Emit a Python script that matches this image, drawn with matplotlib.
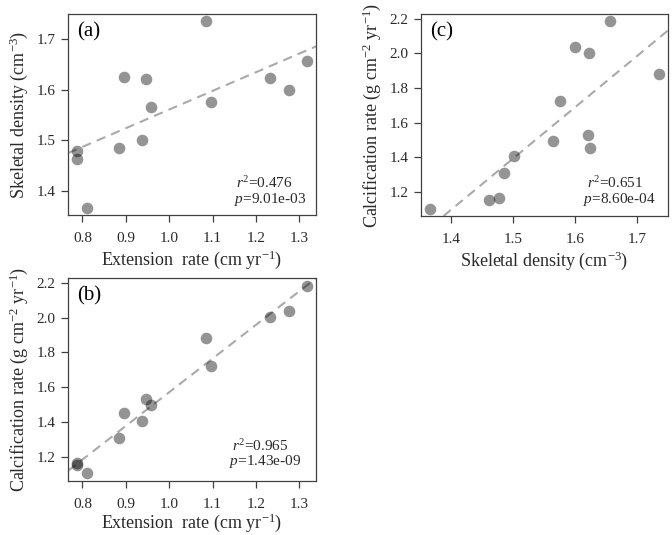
import numpy as np
import matplotlib
matplotlib.use("Agg")
import matplotlib.pyplot as plt

plt.rcParams['font.family'] = ['Liberation Serif', 'DejaVu Serif']
plt.rcParams['mathtext.fontset'] = 'custom'
plt.rcParams['mathtext.rm'] = 'Liberation Serif'
plt.rcParams['mathtext.it'] = 'Liberation Serif:italic'

# Data (one entry per coral)
extension = [0.788, 0.788, 0.810, 0.8835, 0.895, 0.938, 0.947, 0.9587,
             1.086, 1.096, 1.2325, 1.2757, 1.3174]
density = [1.478, 1.462, 1.367, 1.485, 1.624, 1.501, 1.621, 1.565,
           1.7346, 1.576, 1.623, 1.600, 1.656]
calcification = [1.165, 1.155, 1.104, 1.310, 1.454, 1.406, 1.531, 1.496,
                 1.883, 1.723, 2.002, 2.040, 2.185]

stats_a = ("0.476", "9.01e-03")
stats_b = ("0.965", "1.43e-09")
stats_c = ("0.651", "8.60e-04")

xticks_ext = [0.8, 0.9, 1.0, 1.1, 1.2, 1.3]
yticks_den = [1.4, 1.5, 1.6, 1.7]
xticks_den = [1.4, 1.5, 1.6, 1.7]
yticks_cal = [1.2, 1.4, 1.6, 1.8, 2.0, 2.2]

W, H = 672, 535
fig = plt.figure(figsize=(W / 100, H / 100), dpi=100)

def ax_px(left, top, right, bottom):
    return fig.add_axes([left / W, 1 - bottom / H, (right - left) / W, (bottom - top) / H])

def rlim(v):
    v = np.asarray(v)
    r = v.max() - v.min()
    return v.min() - 0.04 * r, v.max() + 0.04 * r

SPINE = '#404040'
TXT = '#2a2a2a'

def panel(ax, x, y, xt, yt, xlabel, ylabel, tag, stats, txtpos, xlpad=3):
    x = np.asarray(x); y = np.asarray(y)
    ax.scatter(x, y, s=70, color='black', alpha=0.42, linewidths=0, zorder=3)
    m, b = np.polyfit(x, y, 1)
    ax.axline((0, b), slope=m, color='#aaaaaa', lw=1.5, dashes=(4.5, 3), zorder=2)
    ax.set_xlim(*rlim(x)); ax.set_ylim(*rlim(y))
    ax.set_xticks(xt); ax.set_yticks(yt)
    ax.set_xticklabels([f"{t:.1f}" for t in xt])
    ax.set_yticklabels([f"{t:.1f}" for t in yt])
    for s in ax.spines.values():
        s.set_color(SPINE); s.set_linewidth(0.9)
    ax.tick_params(direction='out', length=5, width=0.9, color=SPINE,
                   labelsize=11, labelcolor=TXT)
    ax.tick_params(axis='x', pad=7)
    ax.tick_params(axis='y', pad=4)
    ax.set_xlabel(xlabel, fontsize=13, color=TXT, labelpad=xlpad)
    ax.set_ylabel(ylabel, fontsize=13, color=TXT, labelpad=5)
    ax.text(0.036, 0.91, tag, transform=ax.transAxes, fontsize=15, va='center', ha='left')
    (rx, ry), (px, py) = txtpos
    fig.text(rx / W, 1 - ry / H, r"$r^2$=" + stats[0], fontsize=11, color=TXT, va='center')
    fig.text(px / W, 1 - py / H, r"$p$=" + stats[1], fontsize=11, color=TXT, va='center')

ext_label = r"Extension  rate (cm yr$^{\mathregular{-1}}$)"
den_label = r"Skeletal density (cm$^{\mathregular{-3}}$)"
cal_label = r"Calcification rate (g cm$^{\mathregular{-2}}$ yr$^{\mathregular{-1}}$)"

ax_a = ax_px(68, 14, 316, 215)
panel(ax_a, extension, density, xticks_ext, yticks_den, ext_label, den_label, "(a)",
      stats_a, ((236, 183), (234, 200)))

ax_b = ax_px(68, 278, 316, 481)
panel(ax_b, extension, calcification, xticks_ext, yticks_cal, ext_label, cal_label, "(b)",
      stats_b, ((232, 446), (229, 462)), xlpad=0.5)

ax_c = ax_px(421, 14, 668, 216)
panel(ax_c, density, calcification, xticks_den, yticks_cal, den_label, cal_label, "(c)",
      stats_c, ((587, 183), (583, 199)))

fig.savefig("out.png", dpi=100)
